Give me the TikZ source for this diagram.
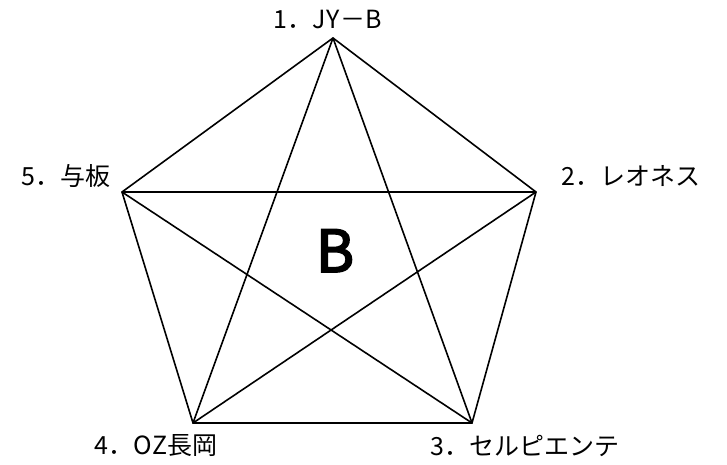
\documentclass[tikz,border=0pt]{standalone}
\usepackage{fontspec}
\setmainfont{Noto Sans CJK JP}
\newfontfamily\heavyfont[FakeBold=3]{Noto Sans CJK JP}
\begin{document}
\begin{tikzpicture}[x=1pt,y=-1pt,
  edge/.style={line width=1.6pt,black},
  lbl/.style={inner sep=0pt,anchor=base west,font=\fontsize{25}{28}\selectfont}]
\useasboundingbox (0,0) rectangle (727,465);
\coordinate (v1) at (333,38);
\coordinate (v2) at (536,192);
\coordinate (v3) at (472,423);
\coordinate (v4) at (193,423);
\coordinate (v5) at (122,192);
\draw[edge] (v1) -- (v2) -- (v3) -- (v4) -- (v5) -- cycle;
\draw[edge] (v1) -- (v3);
\draw[edge] (v1) -- (v4);
\draw[edge] (v2) -- (v4);
\draw[edge] (v2) -- (v5);
\draw[edge] (v3) -- (v5);
\node[lbl] (l1) at (273,29) {1．J\kern1ptY\kern1pt－B};
\node[lbl] (l2) at (561,185) {2．レオネス};
\node[lbl] (l3) at (430,455) {3．セルピエンテ};
\node[lbl] (l4) at (94,454) {4．O\kern1ptZ長岡};
\node[lbl] (l5) at (21,185) {5．与板};
\node[inner sep=0pt,anchor=base,font=\heavyfont\fontsize{58}{60}\selectfont] (b) at (335,272) {B};
\end{tikzpicture}
\end{document}
